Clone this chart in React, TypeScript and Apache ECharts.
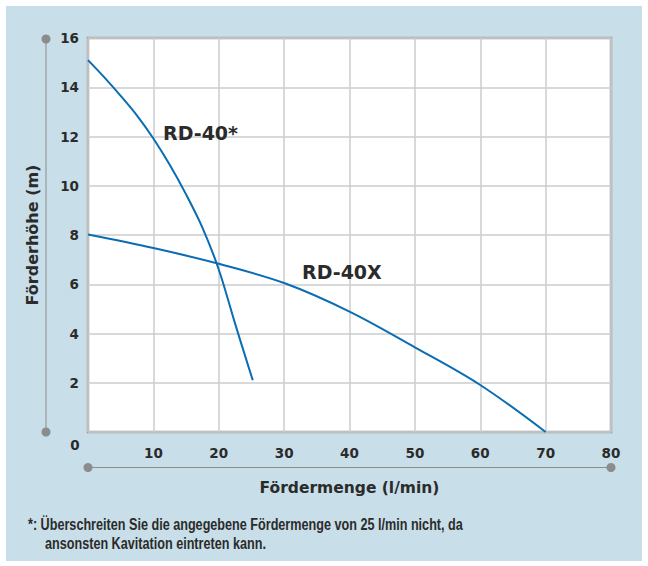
import React, { useEffect, useRef } from "react";
import * as echarts from "echarts";

const xTicks = [0, 10, 20, 30, 40, 50, 60, 70, 80];
const yTicks = [0, 2, 4, 6, 8, 10, 12, 14, 16];
const rd40Star: [number, number][] = [
  [0, 15.1], [2.5, 14.4], [5, 13.65], [7.5, 12.85], [10, 11.92], [12.5, 10.85],
  [15, 9.65], [17.5, 8.3], [20, 6.6], [22.5, 4.4], [25.2, 2.1],
];
const rd40X: [number, number][] = [
  [0, 8.02], [10, 7.47], [20, 6.83], [30, 6.05], [40, 4.89],
  [50, 3.44], [60, 1.91], [70, 0],
];
const seriesNames = ["RD-40*", "RD-40X"];
const xTitle = "Fördermenge (l/min)";
const yTitle = "Förderhöhe (m)";
const footLine1 = "*: Überschreiten Sie die angegebene Fördermenge von 25 l/min nicht, da";
const footLine2 = "ansonsten Kavitation eintreten kann.";

const FONT = "'DejaVu Sans', sans-serif";
const FOOT_FONT = "'Liberation Sans', Arial, sans-serif";
const TXT = "#2b2b2b";
const GRAY = "#8c8c8c";
const BLUE = "#0a6db3";

function measure(text: string, font: string): number {
  const c = document.createElement("canvas").getContext("2d");
  if (!c) return 0;
  c.font = font;
  return c.measureText(text).width;
}

export default function App() {
  const ref = useRef<HTMLDivElement>(null);
  useEffect(() => {
    if (!ref.current) return;
    const chart = echarts.init(ref.current, undefined, { renderer: "svg" });
    const G = { left: 88, top: 38, right: 611, bottom: 432 };
    const footW = measure(footLine1, "bold 16px 'Liberation Sans'");
    const footScale = footW > 0 ? 435 / footW : 0.8;
    chart.setOption({
      animation: false,
      grid: {
        left: G.left, top: G.top, width: G.right - G.left, height: G.bottom - G.top,
        show: true, borderColor: "#9d9d9d", borderWidth: 2.5,
      },
      xAxis: {
        type: "value", min: 0, max: 80, interval: 10,
        axisLine: { show: false }, axisTick: { show: false },
        splitLine: { lineStyle: { color: "#cdcdcd", width: 1.5 } },
        axisLabel: {
          margin: 14, fontFamily: FONT, fontWeight: "bold", fontSize: 13.5, color: TXT,
          formatter: (v: number) => (v === 0 ? "" : String(v)),
        },
        name: xTitle, nameLocation: "middle", nameGap: 48,
        nameTextStyle: { fontFamily: FONT, fontWeight: "bold", fontSize: 15.5, color: TXT },
      },
      yAxis: {
        type: "value", min: 0, max: 16, interval: 2,
        axisLine: { show: false }, axisTick: { show: false },
        splitLine: { lineStyle: { color: "#cdcdcd", width: 1.5 } },
        axisLabel: {
          margin: 9, fontFamily: FONT, fontWeight: "bold", fontSize: 13.5, color: TXT,
          formatter: (v: number) => (v === 0 ? "" : String(v)),
        },
        name: yTitle, nameLocation: "middle", nameGap: 48, nameRotate: 90,
        nameTextStyle: { fontFamily: FONT, fontWeight: "bold", fontSize: 16, color: TXT },
      },
      series: [
        {
          name: seriesNames[0], type: "line", data: rd40Star, smooth: 0.35, symbol: "none",
          lineStyle: { color: BLUE, width: 2 }, z: 5,
        },
        {
          name: seriesNames[1], type: "line", data: rd40X, smooth: 0.35, symbol: "none",
          lineStyle: { color: BLUE, width: 2 }, z: 5,
        },
      ],
      graphic: [
        { type: "rect", z: -10, silent: true, shape: { x: 6, y: 6, width: 636, height: 555 }, style: { fill: "#c8dee8" } },
        { type: "rect", z: -9, silent: true, shape: { x: G.left, y: G.top, width: G.right - G.left, height: G.bottom - G.top }, style: { fill: "#ffffff" } },
        // y decorative axis
        { type: "line", shape: { x1: 46, y1: 39, x2: 46, y2: 432 }, style: { stroke: GRAY, lineWidth: 1 } },
        { type: "circle", shape: { cx: 46, cy: 39, r: 4.5 }, style: { fill: GRAY } },
        { type: "circle", shape: { cx: 46, cy: 432, r: 4.5 }, style: { fill: GRAY } },
        // x decorative axis
        { type: "line", shape: { x1: 88, y1: 467.5, x2: 611, y2: 467.5 }, style: { stroke: GRAY, lineWidth: 1 } },
        { type: "circle", shape: { cx: 88, cy: 467.5, r: 4.5 }, style: { fill: GRAY } },
        { type: "circle", shape: { cx: 611, cy: 467.5, r: 4.5 }, style: { fill: GRAY } },
        // shared zero label
        { type: "text", x: 75, y: 445, style: { text: String(xTicks[0]), fontFamily: FONT, fontWeight: "bold", fontSize: 13.5, fill: TXT, align: "center", verticalAlign: "middle" } },
        // curve labels
        { type: "text", x: 163, y: 133, z: 10, style: { text: seriesNames[0], fontFamily: FONT, fontWeight: "bold", fontSize: 19, fill: TXT, align: "left", verticalAlign: "middle" } },
        { type: "text", x: 302, y: 272, z: 10, style: { text: seriesNames[1], fontFamily: FONT, fontWeight: "bold", fontSize: 19, fill: TXT, align: "left", verticalAlign: "middle" } },
        // footnote
        { type: "text", x: 28, y: 532, scaleX: footScale, style: { text: footLine1, fontFamily: FOOT_FONT, fontWeight: "bold", fontSize: 16, fill: TXT, align: "left", verticalAlign: "bottom" } },
        { type: "text", x: 45, y: 551, scaleX: footScale, style: { text: footLine2, fontFamily: FOOT_FONT, fontWeight: "bold", fontSize: 16, fill: TXT, align: "left", verticalAlign: "bottom" } },
      ],
    });
    return () => chart.dispose();
  }, []);
  return <div ref={ref} style={{ position: "absolute", left: 0, top: 0, width: 648, height: 566 }} />;
}
